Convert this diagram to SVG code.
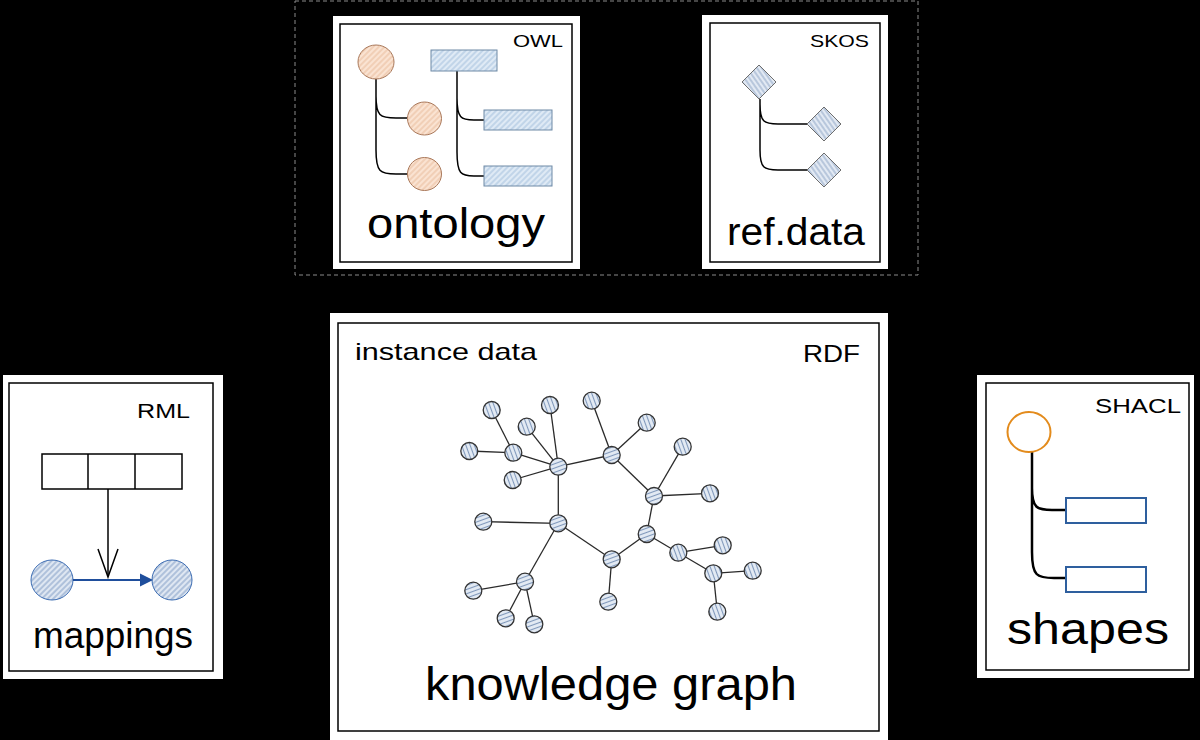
<svg xmlns="http://www.w3.org/2000/svg" width="1200" height="740" viewBox="0 0 1200 740">
<style>
text{font-family:"Liberation Sans",Arial,sans-serif;fill:#000}
.card{fill:#fff;stroke:none}
.frame{fill:none;stroke:#000;stroke-width:1.5}
.tree{fill:none;stroke:#000;stroke-width:1.5}
.edge{stroke:#2a2a2a;stroke-width:1.3}
.nv{fill:url(#hv);stroke:#333;stroke-width:1.3}
.nh{fill:url(#hh);stroke:#333;stroke-width:1.3}
</style>
<defs>
<pattern id="ho" width="4" height="4" patternUnits="userSpaceOnUse" patternTransform="rotate(45)">
<rect width="4" height="4" fill="#fae3d2"/><line x1="1" y1="0" x2="1" y2="4" stroke="#e6b695" stroke-width="0.9"/>
</pattern>
<pattern id="hb" width="4" height="4" patternUnits="userSpaceOnUse" patternTransform="rotate(45)">
<rect width="4" height="4" fill="#dfeaf5"/><line x1="1" y1="0" x2="1" y2="4" stroke="#9dbbd9" stroke-width="0.9"/>
</pattern>
<pattern id="hd" width="4" height="4" patternUnits="userSpaceOnUse" patternTransform="rotate(-35)">
<rect width="4" height="4" fill="#e2e9f3"/><line x1="1" y1="0" x2="1" y2="4" stroke="#8fa6c6" stroke-width="1"/>
</pattern>
<pattern id="hv" width="4" height="4" patternUnits="userSpaceOnUse" patternTransform="rotate(-20)">
<rect width="4" height="4" fill="#e4ebf4"/><line x1="1.5" y1="0" x2="1.5" y2="4" stroke="#7f97ba" stroke-width="1.1"/>
</pattern>
<pattern id="hh" width="4" height="4" patternUnits="userSpaceOnUse" patternTransform="rotate(-20)">
<rect width="4" height="4" fill="#e4ebf4"/><line x1="0" y1="1.5" x2="4" y2="1.5" stroke="#7f97ba" stroke-width="1.1"/>
</pattern>
<pattern id="hm" width="4" height="4" patternUnits="userSpaceOnUse" patternTransform="rotate(45)">
<rect width="4" height="4" fill="#dfe7f2"/><line x1="1" y1="0" x2="1" y2="4" stroke="#7f9cc4" stroke-width="1"/>
</pattern>
<marker id="openTip" markerWidth="8" markerHeight="8" refX="7" refY="4" orient="auto" markerUnits="userSpaceOnUse">
<path d="M1,1 L7,4 L1,7" fill="none" stroke="#000" stroke-width="1"/>
</marker>
<marker id="solidTip" markerWidth="8" markerHeight="8" refX="7" refY="4" orient="auto" markerUnits="userSpaceOnUse">
<path d="M0,1 L7,4 L0,7 Z" fill="#000"/>
</marker>
</defs>

<rect x="0" y="0" width="1200" height="740" fill="#000"/>

<!-- dashed group box -->
<rect id="group-box" x="295" y="1" width="623" height="274" fill="none" stroke="#8a8a8a" stroke-width="1" stroke-dasharray="4,3"/>

<!-- connectors -->
<g id="connectors">
<line x1="456" y1="276" x2="456" y2="318" stroke="#000" stroke-width="1" marker-end="url(#openTip)"/>
<line x1="795" y1="276" x2="795" y2="317" stroke="#000" stroke-width="1" marker-end="url(#solidTip)"/>
</g>

<!-- ontology -->
<g id="ontology">
<rect class="card" x="333" y="16" width="247" height="253"/>
<rect class="frame" x="340" y="24" width="232" height="238"/>
<text x="513" y="47" font-size="17" textLength="50" lengthAdjust="spacingAndGlyphs">OWL</text>
<path class="tree" d="M376,79 V96 C376,116 380,118 396,118 H407 M376,79 V150 C376,172 380,174 396,174 H407"/>
<path class="tree" d="M457,71 V98 C457,118 461,120 474,120 H484 M457,71 V152 C457,174 461,176 474,176 H484"/>
<ellipse cx="376" cy="62" rx="18" ry="17" fill="url(#ho)" stroke="#a9785a" stroke-width="1"/>
<ellipse cx="424.5" cy="118.5" rx="17" ry="16.5" fill="url(#ho)" stroke="#a9785a" stroke-width="1"/>
<ellipse cx="424.5" cy="174" rx="17" ry="16.5" fill="url(#ho)" stroke="#a9785a" stroke-width="1"/>
<rect x="431" y="50" width="66" height="21" fill="url(#hb)" stroke="#6f8aa6" stroke-width="1"/>
<rect x="484" y="110" width="68" height="20" fill="url(#hb)" stroke="#6f8aa6" stroke-width="1"/>
<rect x="484" y="166" width="68" height="20" fill="url(#hb)" stroke="#6f8aa6" stroke-width="1"/>
<text x="367" y="238" font-size="43" textLength="178" lengthAdjust="spacingAndGlyphs">ontology</text>
</g>

<!-- ref.data -->
<g id="refdata">
<rect class="card" x="702" y="15" width="186" height="254"/>
<rect class="frame" x="710" y="23" width="170" height="239"/>
<text x="810" y="47" font-size="17" textLength="59" lengthAdjust="spacingAndGlyphs">SKOS</text>
<path class="tree" d="M760,99 V104 C760,122 764,124 778,124 H807 M760,99 V150 C760,168 764,170 778,170 H807"/>
<polygon points="759,65 776,82 759,99 742,82" fill="url(#hd)" stroke="#6d6d6d" stroke-width="1"/>
<polygon points="824,107 841,124 824,141 807,124" fill="url(#hd)" stroke="#6d6d6d" stroke-width="1"/>
<polygon points="824,153 841,170 824,187 807,170" fill="url(#hd)" stroke="#6d6d6d" stroke-width="1"/>
<text x="727" y="245" font-size="38" textLength="138" lengthAdjust="spacingAndGlyphs">ref.data</text>
</g>

<!-- mappings -->
<g id="mappings">
<rect class="card" x="3" y="375" width="220" height="304"/>
<rect class="frame" x="9" y="383" width="204" height="288"/>
<text x="137" y="418" font-size="20" textLength="53" lengthAdjust="spacingAndGlyphs">RML</text>
<rect x="42" y="454" width="140" height="35" fill="#fff" stroke="#000" stroke-width="1.5"/>
<line x1="88" y1="454" x2="88" y2="489" stroke="#000" stroke-width="1.5"/>
<line x1="135" y1="454" x2="135" y2="489" stroke="#000" stroke-width="1.5"/>
<line x1="108" y1="489" x2="108" y2="576" stroke="#000" stroke-width="1.5"/>
<polyline points="98,549 108,577 118,549" fill="none" stroke="#000" stroke-width="1.5"/>
<ellipse cx="52" cy="580" rx="21" ry="20" fill="url(#hm)" stroke="#3d6db3" stroke-width="1"/>
<ellipse cx="172" cy="580" rx="20" ry="20" fill="url(#hm)" stroke="#3d6db3" stroke-width="1"/>
<line x1="73" y1="580" x2="142" y2="580" stroke="#1f4e9c" stroke-width="2"/>
<polygon points="140,573.5 153,580 140,586.5" fill="#1f4e9c"/>
<text x="33" y="648" font-size="36" textLength="160" lengthAdjust="spacingAndGlyphs">mappings</text>
</g>

<!-- shapes -->
<g id="shapes">
<rect class="card" x="977" y="375" width="217" height="303"/>
<rect class="frame" x="986" y="383" width="203" height="287"/>
<text x="1095" y="413" font-size="21" textLength="86" lengthAdjust="spacingAndGlyphs">SHACL</text>
<path d="M1032,452 V488 C1032,508 1037,510 1052,510 H1066 M1032,452 V552 C1032,576 1037,578 1054,578 H1066" fill="none" stroke="#000" stroke-width="2.5"/>
<ellipse cx="1029" cy="432" rx="21.5" ry="20" fill="#fff" stroke="#e38b1c" stroke-width="2"/>
<rect x="1066" y="498" width="80" height="25" fill="#fff" stroke="#2e5f9e" stroke-width="2"/>
<rect x="1066" y="567" width="80" height="25" fill="#fff" stroke="#2e5f9e" stroke-width="2"/>
<text x="1007" y="644" font-size="45" textLength="162" lengthAdjust="spacingAndGlyphs">shapes</text>
</g>

<!-- knowledge graph -->
<g id="knowledge-graph">
<rect class="card" x="330" y="313" width="558" height="430"/>
<rect class="frame" x="338" y="323" width="541" height="408"/>
<text x="355" y="360" font-size="24" textLength="182" lengthAdjust="spacingAndGlyphs">instance data</text>
<text x="803" y="362" font-size="24" textLength="57" lengthAdjust="spacingAndGlyphs">RDF</text>
<g id="kg-edges">
<line class="edge" x1="513.3" y1="452.7" x2="491.7" y2="410"/>
<line class="edge" x1="513.3" y1="452.7" x2="469.3" y2="451"/>
<line class="edge" x1="513.3" y1="452.7" x2="558.3" y2="466.7"/>
<line class="edge" x1="558.3" y1="466.7" x2="526.7" y2="426.7"/>
<line class="edge" x1="558.3" y1="466.7" x2="550" y2="405"/>
<line class="edge" x1="558.3" y1="466.7" x2="512.7" y2="480"/>
<line class="edge" x1="558.3" y1="466.7" x2="611.7" y2="455"/>
<line class="edge" x1="558.3" y1="466.7" x2="558.3" y2="523.3"/>
<line class="edge" x1="611.7" y1="455" x2="591.7" y2="400.7"/>
<line class="edge" x1="611.7" y1="455" x2="646.7" y2="422.7"/>
<line class="edge" x1="611.7" y1="455" x2="654" y2="496"/>
<line class="edge" x1="654" y1="496" x2="682.7" y2="446.7"/>
<line class="edge" x1="654" y1="496" x2="710" y2="493.3"/>
<line class="edge" x1="654" y1="496" x2="646.7" y2="534"/>
<line class="edge" x1="646.7" y1="534" x2="611.7" y2="559.3"/>
<line class="edge" x1="646.7" y1="534" x2="678.3" y2="552.7"/>
<line class="edge" x1="678.3" y1="552.7" x2="722.7" y2="545.3"/>
<line class="edge" x1="678.3" y1="552.7" x2="713.3" y2="573.3"/>
<line class="edge" x1="713.3" y1="573.3" x2="752.7" y2="570.7"/>
<line class="edge" x1="713.3" y1="573.3" x2="717.3" y2="611.7"/>
<line class="edge" x1="611.7" y1="559.3" x2="558.3" y2="523.3"/>
<line class="edge" x1="611.7" y1="559.3" x2="608.3" y2="601.7"/>
<line class="edge" x1="558.3" y1="523.3" x2="483.3" y2="521.7"/>
<line class="edge" x1="558.3" y1="523.3" x2="525" y2="581.7"/>
<line class="edge" x1="525" y1="581.7" x2="473.3" y2="590.7"/>
<line class="edge" x1="525" y1="581.7" x2="505.7" y2="618.3"/>
<line class="edge" x1="525" y1="581.7" x2="534.3" y2="624.3"/>
</g>
<g id="kg-nodes">
<circle class="nv" cx="491.7" cy="410" r="8.5"/>
<circle class="nv" cx="550" cy="405" r="8.5"/>
<circle class="nv" cx="591.7" cy="400.7" r="8.5"/>
<circle class="nv" cx="526.7" cy="426.7" r="8.5"/>
<circle class="nv" cx="469.3" cy="451" r="8.5"/>
<circle class="nv" cx="513.3" cy="452.7" r="8.5"/>
<circle class="nh" cx="558.3" cy="466.7" r="8.5"/>
<circle class="nv" cx="512.7" cy="480" r="8.5"/>
<circle class="nh" cx="611.7" cy="455" r="8.5"/>
<circle class="nh" cx="483.3" cy="521.7" r="8.5"/>
<circle class="nh" cx="558.3" cy="523.3" r="8.5"/>
<circle class="nh" cx="525" cy="581.7" r="8.5"/>
<circle class="nh" cx="473.3" cy="590.7" r="8.5"/>
<circle class="nh" cx="505.7" cy="618.3" r="8.5"/>
<circle class="nh" cx="534.3" cy="624.3" r="8.5"/>
<circle class="nh" cx="611.7" cy="559.3" r="8.5"/>
<circle class="nh" cx="608.3" cy="601.7" r="8.5"/>
<circle class="nv" cx="646.7" cy="422.7" r="8.5"/>
<circle class="nh" cx="654" cy="496" r="8.5"/>
<circle class="nv" cx="682.7" cy="446.7" r="8.5"/>
<circle class="nv" cx="710" cy="493.3" r="8.5"/>
<circle class="nh" cx="646.7" cy="534" r="8.5"/>
<circle class="nv" cx="678.3" cy="552.7" r="8.5"/>
<circle class="nv" cx="722.7" cy="545.3" r="8.5"/>
<circle class="nv" cx="713.3" cy="573.3" r="8.5"/>
<circle class="nv" cx="752.7" cy="570.7" r="8.5"/>
<circle class="nv" cx="717.3" cy="611.7" r="8.5"/>
</g>
<text x="425" y="700" font-size="46" textLength="372" lengthAdjust="spacingAndGlyphs">knowledge graph</text>
</g>
</svg>
